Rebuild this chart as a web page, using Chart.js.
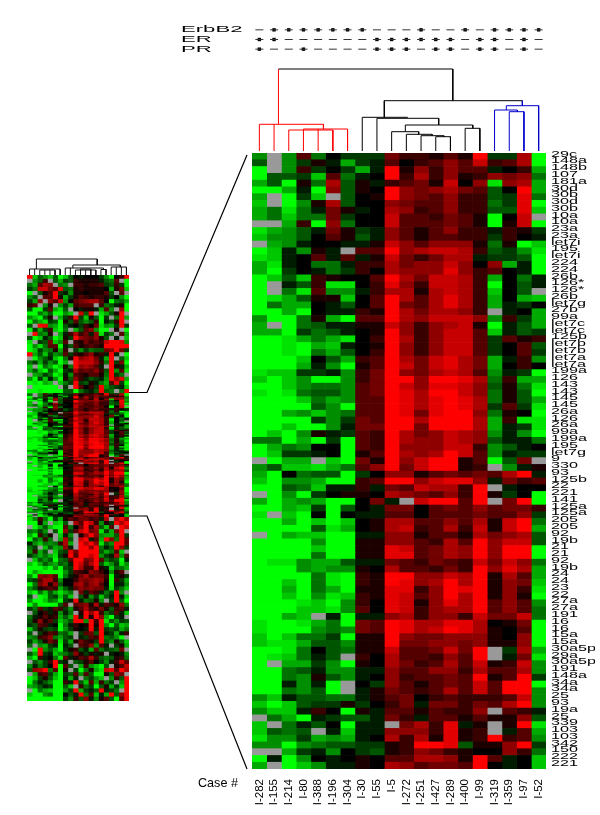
<!DOCTYPE html>
<html><head><meta charset="utf-8">
<script src="https://cdn.jsdelivr.net/npm/chart.js@4"></script>
<style>
html,body{margin:0;padding:0;background:#fff;width:600px;height:815px;overflow:hidden}
canvas{position:absolute;display:block}
#caseLabel{position:absolute;left:198px;top:775px;font:12.6px/16px "Liberation Sans",Arial,sans-serif;color:#000}
</style></head><body>
<canvas id="links" width="600" height="815" style="left:0;top:0"></canvas>
<canvas id="miniTree" width="102" height="19" style="left:27px;top:256px"></canvas>
<canvas id="mini" width="102" height="426" style="left:27px;top:275px"></canvas>
<canvas id="track" width="371" height="29" style="left:175px;top:25px"></canvas>
<canvas id="tree" width="294" height="91" style="left:252px;top:60px"></canvas>
<canvas id="main" width="343" height="662" style="left:252px;top:148px"></canvas>
<div id="caseLabel">Case #</div>
<script>
const caseNames=["I-282","I-155","I-214","I-80","I-388","I-196","I-304","I-30","I-55","I-5","I-272","I-251","I-427","I-289","I-400","I-99","I-319","I-359","I-97","I-52"];
const trackNames=["ErbB2","ER","PR"];
const erbb2=[0,1,1,1,1,1,1,1,0,0,0,1,0,0,1,0,1,1,1,1];
const er=[1,1,0,0,0,0,0,0,1,1,1,1,1,1,0,1,1,0,1,0];
const pr=[1,0,0,1,0,0,0,0,1,1,1,0,1,1,0,1,1,0,1,0];
const rowLabels=["29c","148a","148b","107","181a","30d","30b","30d","30b","10a","10a","23a","23a","let7i","195","let7i","224","224","26b","126*","126*","26b","let7g","27b","99a","let7c","let7c","125b","let7b","let7b","let7a","let7a","199a","126","143","143","145","145","26a","126","26a","99a","199a","195","let7g","9","330","93","125b","22","221","141","125a","125a","205","205","92","19b","21","21","92","19b","24","24","23","22","27a","27a","191","16","16","15a","15a","30a5p","29a","30a5p","191","148a","34a","34a","25","93","19a","25","339","103","103","342","150","222","221"];
const mainRows=[
[-5,null,-5,3,-4,0,-2,-2,-2,4,2,2,1,3,1,9,-2,-2,6,-9],
[-3,null,-5,-2,1,-1,-6,-2,-1,3,0,2,3,5,3,7,2,3,6,-9],
[-9,null,-5,2,-2,0,-2,-6,-1,9,1,5,2,5,3,3,-1,0,2,-6],
[-9,-3,-3,-2,-7,3,-4,-1,0,9,2,6,2,5,1,2,5,4,5,-4],
[-6,-3,-9,1,-4,6,-3,1,-1,2,3,4,1,7,0,5,-8,5,6,-6],
[-9,-9,-6,-1,-9,5,-3,1,0,9,5,4,5,6,4,3,-3,0,9,-6],
[-6,null,-9,-2,-7,null,-3,0,1,9,5,4,3,5,2,2,-3,-2,8,-4],
[-7,null,-9,-5,1,6,-3,0,0,5,4,3,3,5,2,2,-4,-2,8,-9],
[-6,-4,-8,-4,-1,4,1,-1,0,6,5,2,3,5,2,2,-3,-3,8,-7],
[-6,-4,-7,-4,-4,4,-2,0,0,7,3,3,2,4,3,1,-9,0,7,null],
[null,null,-6,2,-9,5,-4,0,0,7,3,3,3,4,3,1,-9,1,7,-9],
[-8,-6,-5,-3,-1,4,1,-2,-1,5,3,1,3,5,2,2,-1,2,1,-2],
[-7,-5,-5,-3,0,3,1,-3,-1,5,3,1,3,3,2,2,-2,2,0,-1],
[null,-6,-5,-1,0,0,-1,-1,1,7,5,3,5,5,5,1,-4,1,-9,-7],
[-9,-7,-1,-5,1,-1,null,3,3,9,5,6,7,7,6,2,-3,-2,-5,-8],
[-8,-7,-1,0,3,-1,3,-1,1,7,4,2,4,6,6,-1,-2,-2,-3,-9],
[-6,-8,-1,0,-4,-4,-1,2,2,6,4,5,5,7,5,0,5,-6,-1,-9],
[-6,-9,-2,0,-1,-4,-2,2,0,6,5,5,5,8,5,2,3,0,-1,-9],
[-9,-7,-3,-7,2,1,0,0,3,9,6,4,7,7,6,2,-6,0,-4,-1],
[-9,null,-1,-3,2,-8,-8,0,2,8,5,2,7,7,6,2,-9,0,-3,-1],
[-9,null,-4,-8,3,-5,-5,-1,2,6,6,1,6,7,6,2,-7,0,-3,null],
[-9,-8,-6,-3,1,1,-7,0,3,9,6,3,6,8,6,2,-6,0,-6,-7],
[-9,-4,-6,-6,0,-1,-3,0,3,9,4,3,6,8,6,2,-6,-1,-2,0],
[-9,-9,-6,-9,0,-1,-1,2,1,9,6,4,6,6,5,2,null,-1,0,-6],
[-5,-9,-9,-4,1,-6,-9,3,3,9,6,5,7,7,7,5,-5,2,-2,-6],
[-6,null,-9,-4,-3,-1,-1,1,1,7,5,2,5,6,7,1,-9,-1,-3,-6],
[-6,-6,-9,-2,-4,-3,-1,0,1,9,5,2,5,7,7,3,-7,-1,-3,-2],
[-9,-9,-8,-6,-4,-6,-8,0,2,9,6,2,5,7,7,3,-2,3,1,2],
[-9,-9,-8,-9,-6,-7,-1,0,1,9,5,2,5,7,7,3,-2,0,3,-3],
[-9,-9,-8,-9,-4,-6,-3,0,2,9,5,2,5,7,7,3,-2,0,3,-2],
[-9,-9,-9,-7,0,-3,-6,2,3,9,6,4,7,8,6,4,-6,-1,2,-5],
[-9,-9,-9,-6,-1,-5,-9,1,3,9,7,4,7,8,6,4,-6,0,2,0],
[-8,-7,-7,-2,-2,-1,-5,2,4,9,5,4,6,7,6,3,-5,-1,-2,-9],
[-7,-9,-7,-5,-9,-9,-5,2,4,9,9,5,9,9,8,6,-4,2,-6,-6],
[-9,-9,-7,-5,-4,-4,-5,3,4,9,7,5,8,8,7,5,-3,1,-4,-8],
[-8,-9,-8,-4,-3,-3,-5,3,4,9,8,6,9,9,7,5,-4,1,-3,-9],
[-9,-9,-9,-7,-4,-6,-5,3,3,9,8,6,8,9,8,6,-4,1,-3,-6],
[-9,-9,-9,-9,-3,-5,-9,3,3,9,8,6,8,9,8,6,-2,3,-2,-8],
[-9,-9,-6,-5,-7,-5,-4,3,3,9,8,4,8,9,9,5,-4,1,0,-9],
[-9,-9,-9,-9,-2,-5,-2,4,3,9,9,6,9,9,9,6,-6,2,-8,-8],
[-9,-9,-7,-9,-9,-5,-1,4,4,9,9,4,9,9,9,6,-6,-1,-2,-8],
[-9,-7,-9,-5,1,-1,-2,3,2,9,6,4,5,7,6,5,-5,-1,-5,-9],
[-4,-4,-9,-6,-9,-2,-9,3,2,9,6,5,5,7,6,5,-3,-1,-1,-4],
[-9,-6,-4,-5,0,0,-9,3,2,9,5,5,5,7,7,2,-5,-3,-1,0],
[-9,-7,-2,-2,-1,0,-9,1,3,9,6,5,6,9,7,3,-5,-1,-2,-2],
[null,-9,-6,-6,null,-7,-9,4,1,9,5,7,9,9,1,3,-9,-3,4,null],
[-5,-3,-7,-7,-8,-6,-4,3,5,9,4,7,9,9,1,2,null,-5,-1,1],
[-6,-9,0,-4,-3,-3,-9,-2,0,5,5,1,3,4,3,4,3,6,9,-1],
[-7,-9,-5,-5,-6,-9,-9,2,3,9,9,5,7,8,8,5,-1,4,2,3],
[-9,-9,-3,-4,-7,-1,-1,2,-1,4,3,7,6,6,2,9,null,-1,0,0],
[null,-9,-5,-9,-2,0,1,1,0,6,5,4,3,5,2,9,1,-2,0,-9],
[-6,-9,-6,-5,-6,-9,-9,0,4,-1,null,7,9,9,3,9,null,4,9,-9],
[-9,-9,-6,-7,-2,-9,-3,0,-1,4,4,0,3,4,3,5,3,4,4,2],
[-8,null,-7,-9,0,-9,0,-1,-1,3,3,0,3,3,3,4,3,3,5,-2],
[-9,-9,-6,-9,-7,-9,-7,0,1,6,6,3,3,5,3,6,1,7,9,-4],
[-9,-9,-9,-9,-3,-8,-6,0,1,6,7,2,3,6,2,7,1,7,9,-6],
[null,-9,-6,-7,-7,-9,-9,-1,-1,5,5,1,3,3,1,6,4,5,6,-3],
[-9,-9,-9,-9,-5,-9,-9,1,1,5,5,3,2,6,3,9,5,7,7,-3],
[-9,-9,-9,-9,-7,-9,-9,1,1,8,7,3,4,6,5,9,5,9,9,-9],
[-9,-9,-9,-9,-4,-9,-9,1,1,8,8,3,4,6,5,9,5,9,9,-9],
[-9,-8,-8,-5,-6,-6,-3,-1,-1,4,3,2,4,3,2,7,4,7,5,-4],
[-9,-9,-9,-5,-6,-5,-5,1,0,6,3,3,2,4,2,9,5,8,6,-6],
[-9,-9,-9,-9,-4,-8,-9,2,1,9,9,5,5,7,6,9,1,6,3,-6],
[-9,-9,-7,-9,-4,-8,-9,2,1,9,8,5,6,9,6,9,1,5,4,-7],
[-9,-9,-6,-9,-4,-6,-9,1,1,8,8,2,5,9,8,9,1,5,2,-8],
[-9,-9,-7,-9,-5,-8,-7,2,1,8,7,3,5,9,6,9,1,5,1,-9],
[-9,-9,-9,-8,-7,-9,-5,2,0,8,7,1,5,8,6,9,3,5,3,-5],
[-9,-9,-9,-7,-7,-8,-5,3,0,8,7,2,5,6,6,9,3,5,3,-4],
[-9,-9,-6,-7,null,-1,-9,-1,-1,5,6,2,5,5,2,7,4,4,7,-4],
[-8,-9,-9,-8,-6,-4,-9,4,3,9,8,6,6,8,8,6,0,1,4,-9],
[-8,-9,-9,-9,-5,-4,-5,4,3,9,8,6,7,9,8,6,1,0,3,-9],
[-7,-9,-7,-4,-4,-2,-9,1,1,9,5,4,4,5,5,5,1,0,5,-9],
[-7,-8,-8,-6,-3,-3,-5,1,1,9,4,4,5,5,4,5,1,1,5,-9],
[-9,-9,-8,-4,0,-3,-4,1,1,7,3,3,4,7,4,9,null,-2,6,-6],
[-9,-8,-7,-4,-1,-3,null,2,0,6,3,3,2,5,3,9,null,-1,4,-8],
[-9,null,-6,-6,-2,-5,-9,1,0,6,4,2,3,6,3,7,1,2,7,-5],
[-9,-9,-4,-3,-1,-5,-5,-1,-1,5,3,3,5,5,2,6,3,3,6,-5],
[-9,-9,-4,-5,1,-3,-5,-1,0,5,2,3,3,4,3,9,1,3,9,-2],
[-9,-9,-1,-5,-1,-9,null,0,-2,5,3,1,3,4,3,7,3,9,9,-9],
[-9,-9,-4,-5,-3,-9,null,-1,1,4,3,2,3,6,3,7,3,9,9,-5],
[-5,-7,-1,-3,-3,-4,-4,-1,1,3,4,0,2,3,2,2,2,3,7,-5],
[-7,-9,-7,-3,-2,-2,1,-2,0,2,4,-1,4,4,2,4,3,6,9,-5],
[-5,-7,-7,-1,2,0,-9,1,-1,3,3,1,3,2,2,5,null,3,2,-1],
[null,-4,-6,-9,-1,-2,-3,-3,-1,4,2,-1,3,3,1,3,1,1,5,-3],
[-7,null,-4,-1,-3,0,-9,-1,-1,null,4,6,2,8,-1,1,null,1,9,-8],
[-7,-3,-4,-3,null,-1,-7,-1,-1,5,5,5,2,8,1,2,null,-1,3,-6],
[-8,-5,-5,-2,-6,-5,-6,-1,0,6,2,6,1,8,1,2,9,2,3,-5],
[-5,-5,-9,-5,-4,-3,-3,-2,-2,1,2,9,9,8,-3,1,1,5,9,-2],
[null,null,-6,-2,-1,-5,0,-2,-3,1,2,5,4,2,1,0,0,5,2,-4],
[-9,-1,-9,-5,0,-1,0,1,0,3,3,6,6,5,1,9,3,-1,0,-7],
[-6,null,-9,-7,-5,-1,-1,1,0,6,5,3,4,4,3,9,0,-1,0,-7]
];
const miniUpperRows=[
[9,-7,-3,-5,-7,-3,-9,-7,-3,0,-1,0,0,0,-2,-5,-9,0,2,9],
[null,-5,-3,2,null,-3,-6,-2,-3,2,1,1,1,1,-1,-3,-4,3,null,-9],
[-4,-6,3,6,5,null,-4,-5,null,2,2,1,2,2,3,-2,-3,2,-2,-9],
[-2,-4,7,7,4,3,8,-3,-4,1,2,1,1,1,1,0,-6,1,4,-7],
[-9,null,-3,1,3,9,-2,-1,-5,1,1,0,1,1,1,3,-3,null,3,null],
[-5,-3,null,3,3,9,1,-6,-2,1,3,2,1,2,2,1,-2,0,-5,-9],
[-2,-6,5,null,5,3,7,-5,0,3,4,5,6,6,3,0,-9,-4,-3,-6],
[2,3,null,-5,1,null,-5,-2,-6,2,3,3,3,null,2,-4,-3,-1,1,-9],
[-3,-9,-9,-2,3,-6,-8,-3,null,0,-1,1,1,-1,-6,3,-5,null,5,-9],
[-9,-9,-4,-6,-3,-9,-9,-5,-7,null,7,-3,9,null,-8,-6,-3,1,9,null],
[-5,-7,-9,-3,1,null,-6,-2,2,9,-2,-7,1,-3,-9,-2,null,-4,9,-6],
[-9,-4,-6,-8,-2,-3,-9,1,-3,3,-3,-5,-3,2,-9,-1,-3,2,9,null],
[-3,null,9,8,-5,-6,-9,-3,-1,0,-2,2,0,4,-8,-5,-6,-2,9,-2],
[-9,-2,-6,-2,2,-7,-9,-4,null,-6,-3,3,5,-5,-9,-9,null,1,null,-9],
[null,9,-4,-5,1,null,-6,-1,2,6,2,4,-1,5,-8,-2,-4,null,3,-6],
[-3,-9,-7,-1,-3,-9,-7,1,-2,9,5,4,3,5,1,-3,null,-1,null,-7],
[-8,null,-2,-3,4,-7,-5,3,null,2,1,4,2,3,2,7,9,9,8,-5],
[-9,-5,-8,-4,3,3,-9,-1,-3,3,1,2,3,2,1,9,9,9,9,9],
[-9,-7,-2,-5,-4,1,-6,2,null,-2,-5,-2,-4,-3,-3,4,5,9,4,-2],
[9,-6,-3,-7,-2,-5,-4,3,-2,2,1,3,5,1,2,-1,9,-1,null,-9],
[null,-9,-5,-3,-1,-7,-9,-4,1,9,5,6,7,4,-1,-6,9,null,-3,-7],
[-4,-2,-6,-2,-5,-3,-9,-6,null,9,7,7,7,5,2,-4,9,-2,4,-9],
[-7,null,-9,-4,-6,-9,-7,1,-4,9,5,6,5,3,-1,null,9,1,-1,-6],
[-6,-3,-7,-9,-3,-6,-9,-2,-1,6,3,4,3,5,2,-3,9,-5,3,-8],
[null,-6,-5,-2,-4,-9,-7,-1,-5,3,2,1,3,3,1,-4,9,-2,-4,null],
[-5,-9,-2,-7,-1,-5,-9,1,-3,5,2,-1,-3,-2,-1,-5,9,5,8,-6],
[-9,-8,-9,-6,-7,null,-7,-4,-2,9,-2,-3,1,-1,-4,-6,3,8,-2,-9],
[null,-9,-9,-9,-9,-9,null,-2,null,9,3,0,2,-2,9,-5,-3,-2,-1,-7],
[-9,-9,-8,-9,-9,-9,-9,-3,-3,-9,-4,-2,-1,-3,9,-3,-4,null,-4,9]
];
const miniLowerRows=[
[-8,-5,2,-4,-9,-2,-6,1,3,2,4,4,2,3,-1,6,null,6,9,5],
[-9,-9,1,-6,null,-7,-8,-3,null,6,3,9,7,2,-5,1,-2,9,6,9],
[null,-9,-6,-3,-7,-9,-9,3,-4,0,4,9,2,6,-3,-7,3,null,9,7],
[-4,-5,-2,-5,null,-3,-9,5,-2,3,7,9,4,5,-8,-2,-6,4,9,null],
[-6,-9,2,-3,1,null,-7,-1,-5,null,1,5,9,5,-5,-6,-6,-3,9,-2],
[-9,-3,-5,2,-4,null,-6,6,-3,null,7,9,-1,3,-6,9,5,-4,9,3],
[-1,-5,-7,-4,-5,-4,2,6,-6,null,9,6,9,5,-8,-3,-5,9,9,3],
[-4,-2,null,-7,-3,-6,-5,5,-1,null,9,9,5,9,-4,-1,-3,9,5,-2],
[-5,2,-6,-3,null,-7,-3,-2,8,4,9,9,9,9,-3,-6,-4,3,-7,null],
[-2,-4,-6,-4,-6,-8,-2,1,9,3,9,9,7,9,-5,-2,-1,6,-5,3],
[null,-7,-3,-5,-3,-9,-4,-3,3,9,9,4,5,9,3,-4,-2,-3,-9,-1],
[-7,-9,-6,-3,-5,-6,-3,-4,-1,9,7,3,6,9,-3,-7,-5,-2,-8,-5],
[-9,-9,-9,-7,-9,-5,-9,-3,-2,9,6,2,2,8,1,-1,-7,-3,-4,-6],
[-9,-6,-8,-9,-9,-9,-9,-5,-2,3,2,1,5,4,2,0,-5,1,3,null],
[-5,-9,5,4,5,3,-9,-4,-1,1,4,6,3,4,4,2,-9,-1,1,-2],
[-3,-2,3,6,6,2,-5,0,0,2,5,4,5,6,5,1,-9,2,-2,-6],
[-9,-4,4,6,1,5,-3,0,0,5,6,3,5,6,3,0,-9,-1,-1,-5],
[-5,-3,1,2,3,2,-6,-3,-1,3,5,4,5,4,4,-1,-8,-2,-4,-7],
[-7,-9,-4,-7,-3,-6,-8,-6,-4,null,4,-1,3,2,-1,-4,-2,9,-5,null],
[-3,null,-9,-8,-3,-2,-7,-3,-7,null,-3,1,-5,-2,-7,-3,-1,9,-1,-7],
[-5,-9,-9,-7,-4,-5,-9,-2,-1,9,-1,-4,-3,1,-5,null,-2,9,-3,-9],
[-9,-5,-9,-9,-9,-9,-3,3,null,3,4,5,1,6,-1,3,2,1,5,-4],
[-2,-4,3,-2,-1,3,2,-2,-5,1,3,6,2,1,4,1,-3,2,3,-1],
[null,-3,0,2,-1,1,-5,-1,-4,null,1,9,5,9,2,-4,-2,3,-1,-7],
[-4,-1,1,3,1,2,-6,-3,-6,9,-1,9,1,9,5,-6,-9,-2,-1,null],
[-3,1,5,1,3,-2,-7,-5,-3,9,9,-5,9,2,9,-8,-3,-5,-2,-3],
[-2,-3,3,2,-1,0,-9,-4,-1,2,0,1,9,1,9,-5,-9,-3,-7,-6],
[-7,-3,1,-2,-3,-2,-9,-5,-2,1,0,-1,9,-1,9,-2,-3,-2,-6,-4],
[-3,null,-2,1,3,2,-4,-3,-6,null,-2,3,4,-3,9,-1,-2,-6,-1,2],
[-5,-4,2,3,5,-4,-6,-3,-2,null,-1,-2,3,2,9,-4,-3,-5,-9,null],
[-2,-6,-3,1,4,2,-8,-2,-6,1,4,2,1,-2,9,-3,-5,1,-3,-7],
[-4,null,-5,-6,-2,-1,-9,-1,-3,null,3,2,5,-5,3,-1,null,-2,1,-6],
[null,-9,9,-5,-3,-6,-9,-2,1,2,-3,-1,-6,3,-4,-2,-3,-4,4,null],
[-3,-6,9,-2,-1,-7,-5,-4,-2,5,1,-2,1,-1,1,null,-1,0,-1,-5],
[-6,-9,2,-1,0,-4,-8,3,-1,1,3,2,6,2,-3,-4,-3,1,2,-4],
[null,-3,-5,-2,2,9,-2,-1,null,-3,-2,1,3,0,-2,-5,-1,2,7,3],
[-5,-1,-4,-2,0,9,-9,3,-3,null,-6,2,-5,-7,-9,-3,null,1,3,7],
[-3,5,6,9,-4,3,-9,1,null,-2,-9,-4,1,-6,-8,7,8,3,9,6],
[null,-6,2,3,-2,-6,-9,-2,-3,3,-5,3,-3,-9,-9,1,-3,5,4,null],
[-9,-7,-2,1,-3,-7,-9,-1,-6,-1,null,-4,-2,-5,-7,null,-5,2,-3,9],
[-9,-4,-1,-3,-5,-9,-9,2,-1,9,-3,-7,3,-6,2,-4,-2,null,-5,9],
[-6,-5,-3,-1,-2,-9,-9,-3,-7,null,2,-4,-2,-9,-3,1,-6,-2,-7,9],
[null,-9,-4,-6,-7,-9,-9,-5,-2,9,-6,-2,-1,-3,9,-1,-2,-4,null,9],
[-7,-9,-9,-5,-4,-9,-9,0,-3,-1,9,-4,3,-7,-1,-6,9,-3,5,9],
[-9,-9,-9,-9,-9,-9,-9,-2,-5,2,-3,5,-1,-5,1,3,-3,-9,3,9]
];
const treeRed=[
[[0.5,0],[0.5,26.7],[4.86,26.7],[4.86,22]],[[1.5,0],[1.5,26.7]],[[1.8,26.7],[1.8,82]],
[[2.5,0],[2.5,21],[5.5,21],[5.5,0]],[[3.5,0],[3.5,22],[6.5,22],[6.5,0]],[[4.5,0],[4.5,22]]];
const treeBlack=[
[[1.8,82],[13.66,82],[13.66,50.3]],[[18.39,50.3],[9,50.3],[9,33.7]],
[[7.5,0],[7.5,33.7],[10.6,33.7]],[[8.5,0],[8.5,32.7],[12.7,32.7],[12.7,26]],
[[10.43,19.3],[10.43,26],[15.02,26],[15.02,22.7]],[[14.5,0],[14.5,22.7],[15.5,22.7],[15.5,0]],
[[9.5,0],[9.5,19.3],[11.34,19.3],[11.34,16.7]],[[10.5,0],[10.5,16.7],[12.25,16.7],[12.25,15.3]],
[[11.5,0],[11.5,15.3],[13.05,15.3],[13.05,14.3]],[[12.5,0],[12.5,14.3],[13.5,14.3],[13.5,0]]];
const treeBlue=[
[[18.39,50.3],[18.39,45.3]],[[17.3,41],[17.3,45.3],[19.5,45.3],[19.5,0]],
[[16.5,0],[16.5,41],[18.05,41],[18.05,39.3]],[[17.5,0],[17.5,39.3],[18.5,39.3],[18.5,0]]];
const miniTreePaths=[
[[1.84,6],[1.84,16],[13.77,16],[13.77,10]],[[0.5,0],[0.5,6],[6.5,6],[6.5,0]],[[1.5,0],[1.5,6]],
[[2.5,0],[2.5,5],[5.5,5],[5.5,0]],[[3.5,0],[3.5,5]],[[4.5,0],[4.5,5]],
[[9,7],[9,10],[18.3,10],[18.3,8]],[[7.5,0],[7.5,7],[15,7],[15,5.5]],[[8.5,0],[8.5,7]],
[[14.5,0],[14.5,5.5],[15.5,5.5],[15.5,0]],[[9.5,0],[9.5,5],[13.5,5],[13.5,0]],
[[10.5,0],[10.5,6],[12.5,6],[12.5,0]],[[11.5,0],[11.5,5]],
[[16.5,0],[16.5,8],[19.5,8],[19.5,0]],[[17.5,0],[17.5,8]],[[18.5,0],[18.5,8]]];
const linkPaths=[[[129,392.5],[147,392.5],[247,155]],[[129,516],[147,516],[247,769]]];

const COARSE=3;
const cellColour=v=>{
  if(v===null||v===undefined) return '#999999';
  const c=Math.round(Math.abs(v)/9*255);
  return v>=0?`rgb(${c},0,0)`:`rgb(0,${c},0)`;
};
const stretchedLabels={id:'stretchedLabels',afterDraw(chart,_a,o){
  if(!o.scaleId) return;
  const s=chart.scales[o.scaleId],ctx=chart.ctx;
  ctx.save();
  ctx.font=`${o.size}px "Liberation Sans",Arial,sans-serif`;
  ctx.fillStyle='#000';ctx.textBaseline='middle';ctx.textAlign='left';
  s.ticks.forEach((t,i)=>{
    ctx.save();
    ctx.translate(o.x,s.getPixelForTick(i)+o.dy);
    ctx.scale(o.sx,1);
    ctx.fillText(t.label,0,0);
    ctx.restore();
  });
  ctx.restore();
}};
Chart.register(stretchedLabels);
const quiet={legend:{display:false},tooltip:{enabled:false},title:{display:false}};
const base={responsive:false,animation:false,events:[],layout:{padding:0,autoPadding:false}};
const noAxis=(min,max,reverse)=>({type:'linear',display:false,min,max,reverse:!!reverse,grid:{display:false}});
const fitSide=w=>s=>{s.width=w;s.paddingTop=0;s.paddingBottom=0;};
const heatSets=rows=>caseNames.map((n,c)=>({label:n,data:rows.map(()=>1),
  backgroundColor:rows.map(r=>cellColour(r[c])),borderWidth:0,barPercentage:1,categoryPercentage:1}));
const lineSet=(p,color,w)=>({data:p.map(([x,y])=>({x,y})),showLine:true,borderColor:color,borderWidth:w,
  pointRadius:0,fill:false,tension:0,clip:false});

new Chart(document.getElementById('main'),{type:'bar',
  data:{labels:rowLabels,datasets:heatSets(mainRows)},
  options:{...base,layout:{padding:{top:5},autoPadding:false},indexAxis:'y',plugins:{...quiet,stretchedLabels:{scaleId:'y',x:299,size:8.5,sx:1.9,dy:-2}},
    scales:{
      x:{type:'linear',stacked:true,min:0,max:20,grid:{display:false},border:{display:false},
        afterBuildTicks:s=>{s.ticks=caseNames.map((_,i)=>({value:i+0.5}));},
        afterFit:s=>{s.height=41;s.paddingLeft=0;s.paddingRight=0;},
        ticks:{autoSkip:false,minRotation:90,maxRotation:90,padding:2,color:'#000',
          font:{family:'"Liberation Sans"',size:11.5},callback:v=>caseNames[v-0.5]}},
      y:{type:'category',position:'right',stacked:true,grid:{display:false},border:{display:false},
        afterFit:fitSide(49),
        ticks:{autoSkip:false,color:'rgba(0,0,0,0)',padding:2,font:{size:6}}}
    }}});

const miniRows=[...miniUpperRows.flatMap(r=>Array(COARSE).fill(r)),...mainRows,...miniLowerRows.flatMap(r=>Array(COARSE).fill(r))];
new Chart(document.getElementById('mini'),{type:'bar',
  data:{labels:miniRows.map((_,i)=>i+1),datasets:heatSets(miniRows)},
  options:{...base,indexAxis:'y',plugins:quiet,
    scales:{x:{...noAxis(0,20),stacked:true},y:{type:'category',display:false,stacked:true}}}});

const treeChart=(id,sets,top)=>new Chart(document.getElementById(id),{type:'scatter',
  data:{datasets:sets},options:{...base,plugins:quiet,scales:{x:noAxis(0,20),y:noAxis(0,top)}}});
treeChart('tree',[...treeRed.map(p=>lineSet(p,'#ff0000',1)),...treeBlack.map(p=>lineSet(p,'#000000',1)),...treeBlue.map(p=>lineSet(p,'#0000cc',1))],91);
treeChart('miniTree',miniTreePaths.map(p=>lineSet(p,'#111111',1)),19);

const statusByTrack=[erbb2,er,pr];
const statusPoints=keep=>statusByTrack.flatMap((st,t)=>st.map((s,c)=>keep(s)?{x:c+0.5,y:trackNames[t]}:null).filter(Boolean));
new Chart(document.getElementById('track'),{type:'scatter',
  data:{labels:trackNames,datasets:[
    {data:statusPoints(()=>true),pointStyle:'line',pointRadius:4,pointBorderColor:'#333',pointBorderWidth:1,showLine:false,clip:false},
    {data:statusPoints(s=>s===1),pointStyle:'rect',pointRadius:2.4,pointBackgroundColor:'#000',pointBorderColor:'#000',pointBorderWidth:0,showLine:false,clip:false}
  ]},
  options:{...base,layout:{padding:{left:77},autoPadding:false},plugins:{...quiet,stretchedLabels:{scaleId:'y',x:6,size:8.5,sx:2.6,dy:0}},
    scales:{x:{type:'linear',display:false,min:0,max:20},
      y:{type:'category',display:false,labels:trackNames,offset:true,ticks:{autoSkip:false}}}}});

new Chart(document.getElementById('links'),{type:'scatter',
  data:{datasets:linkPaths.map(p=>lineSet(p,'#000',1.2))},
  options:{...base,plugins:quiet,scales:{x:noAxis(0,600),y:noAxis(0,815,true)}}});
</script>
</body></html>
